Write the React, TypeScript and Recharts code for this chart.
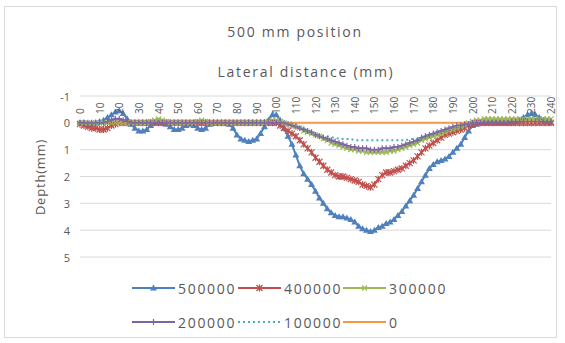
import React from "react";
import { LineChart, Line, XAxis, YAxis, CartesianGrid, Legend } from "recharts";

// lateral position across the track, mm
const lateralMm = [
  0, 2, 4, 6, 8, 10, 12, 14, 16, 18,
  20, 22, 24, 26, 28, 30, 32, 34, 36, 38,
  40, 42, 44, 46, 48, 50, 52, 54, 56, 58,
  60, 62, 64, 66, 68, 70, 72, 74, 76, 78,
  80, 82, 84, 86, 88, 90, 92, 94, 96, 98,
  100, 102, 104, 106, 108, 110, 112, 114, 116, 118,
  120, 122, 124, 126, 128, 130, 132, 134, 136, 138,
  140, 142, 144, 146, 148, 150, 152, 154, 156, 158,
  160, 162, 164, 166, 168, 170, 172, 174, 176, 178,
  180, 182, 184, 186, 188, 190, 192, 194, 196, 198,
  200, 202, 204, 206, 208, 210, 212, 214, 216, 218,
  220, 222, 224, 226, 228, 230, 232, 234, 236, 238,
  240,
];

// rut depth (mm) after each number of passes
const depth500000 = [
  0, 0, 0.05, 0.05, 0, -0.05, -0.1, -0.2, -0.3, -0.4,
  -0.45, -0.35, -0.15, 0.05, 0.2, 0.3, 0.3, 0.25, 0.1, 0,
  -0.05, 0, 0.05, 0.15, 0.25, 0.25, 0.2, 0.1, 0.05, 0.1,
  0.2, 0.25, 0.2, 0.05, 0, 0, 0, 0, 0.05, 0.2,
  0.45, 0.6, 0.65, 0.7, 0.65, 0.6, 0.4, 0.15, -0.1, -0.3,
  -0.3, -0.1, 0.2, 0.5, 0.8, 1.2, 1.6, 1.9, 2.1, 2.3,
  2.55, 2.8, 3.0, 3.2, 3.35, 3.45, 3.5, 3.5, 3.55, 3.6,
  3.7, 3.85, 3.95, 4.0, 4.05, 4.0, 3.9, 3.85, 3.75, 3.7,
  3.6, 3.45, 3.3, 3.1, 2.9, 2.7, 2.45, 2.2, 1.95, 1.7,
  1.55, 1.45, 1.4, 1.35, 1.25, 1.1, 0.95, 0.8, 0.55, 0.3,
  0.1, 0.05, 0, 0, 0, 0, 0, 0, 0, 0,
  0, -0.05, -0.1, -0.2, -0.3, -0.35, -0.3, -0.2, -0.1, -0.05,
  0,
];

const depth400000 = [
  0.05, 0.1, 0.15, 0.2, 0.2, 0.25, 0.25, 0.2, 0.1, 0.05,
  0, 0, 0, 0, 0, 0, 0, 0, 0, 0,
  0, 0, 0, 0, 0, 0, 0, 0, 0, 0,
  0, 0, 0, 0, 0, 0, 0, 0, 0, 0,
  0, 0, 0, 0, 0, 0, 0, 0, 0, 0,
  0, 0.1, 0.2, 0.3, 0.4, 0.5, 0.65, 0.8, 0.95, 1.1,
  1.3, 1.45, 1.6, 1.75, 1.85, 1.95, 2.0, 2.0, 2.05, 2.1,
  2.15, 2.2, 2.3, 2.35, 2.4, 2.3, 2.1, 1.95, 1.85, 1.85,
  1.8, 1.75, 1.7, 1.6, 1.5, 1.4, 1.25, 1.1, 0.95, 0.85,
  0.75, 0.65, 0.55, 0.45, 0.4, 0.35, 0.3, 0.25, 0.2, 0.1,
  0.05, 0, 0, 0, 0, 0, 0, 0, 0, 0,
  0, 0, 0, 0, 0, 0, 0, 0, 0, 0,
  0,
];

const depth300000 = [
  0, 0, 0, 0, 0, 0, 0, 0, 0, 0,
  0, 0, 0, 0, 0, 0, 0, 0, -0.05, -0.1,
  -0.15, -0.1, -0.05, 0, 0, 0, 0, 0, 0, 0,
  -0.05, -0.1, -0.05, 0, 0, 0, 0, 0, 0, 0,
  0, 0, 0, 0, 0, 0, 0, 0, -0.05, -0.1,
  -0.1, -0.05, 0, 0.05, 0.1, 0.15, 0.2, 0.3, 0.35, 0.4,
  0.45, 0.5, 0.6, 0.65, 0.75, 0.8, 0.85, 0.9, 0.95, 1.0,
  1.0, 1.05, 1.05, 1.1, 1.1, 1.1, 1.1, 1.1, 1.1, 1.05,
  1.05, 1.0, 0.95, 0.9, 0.85, 0.8, 0.75, 0.65, 0.6, 0.55,
  0.5, 0.45, 0.4, 0.35, 0.3, 0.25, 0.2, 0.15, 0.1, 0,
  -0.05, -0.1, -0.1, -0.15, -0.15, -0.15, -0.15, -0.15, -0.15, -0.15,
  -0.15, -0.15, -0.15, -0.15, -0.15, -0.15, -0.15, -0.15, -0.15, -0.15,
  -0.15,
];

const depth200000 = [
  0, 0, 0, 0, 0, 0, 0, -0.05, -0.1, -0.15,
  -0.15, -0.1, -0.05, 0, 0, 0, 0, 0, 0, 0,
  0, 0, 0, 0, 0, 0, 0, 0, 0, 0,
  0, 0, 0, 0, 0, 0, 0, 0, 0, 0,
  0, 0, 0, 0, 0, 0, 0, 0, 0, 0,
  0, 0, 0, 0.05, 0.1, 0.15, 0.2, 0.25, 0.3, 0.35,
  0.45, 0.5, 0.55, 0.6, 0.65, 0.7, 0.75, 0.8, 0.85, 0.9,
  0.9, 0.95, 0.95, 0.95, 1.0, 1.0, 1.0, 0.95, 0.95, 0.95,
  0.9, 0.9, 0.85, 0.8, 0.75, 0.7, 0.65, 0.55, 0.5, 0.45,
  0.4, 0.35, 0.3, 0.25, 0.2, 0.15, 0.1, 0.1, 0.05, 0.05,
  0, 0, 0, 0, 0, 0, 0, 0, 0, 0,
  -0.05, -0.05, -0.05, -0.05, -0.05, -0.05, -0.05, -0.05, -0.05, -0.05,
  -0.05,
];

const depth100000 = [
  0, 0, 0, 0, 0, 0, 0, 0, 0, 0,
  0, 0, 0, 0, 0, 0, 0, 0, 0, 0,
  0, 0, 0, 0, 0, 0, 0, 0, 0, 0,
  0, 0, 0, 0, 0, 0, 0, 0, 0, 0,
  0, 0, 0, 0, 0, 0, 0, 0, 0, 0,
  0, 0, 0, 0, 0, 0.05, 0.15, 0.2, 0.3, 0.35,
  0.4, 0.45, 0.5, 0.5, 0.55, 0.55, 0.6, 0.6, 0.6, 0.6,
  0.65, 0.65, 0.65, 0.65, 0.65, 0.65, 0.65, 0.65, 0.65, 0.65,
  0.65, 0.65, 0.65, 0.65, 0.6, 0.6, 0.6, 0.55, 0.5, 0.45,
  0.4, 0.35, 0.3, 0.25, 0.2, 0.15, 0.1, 0.05, 0, 0,
  0, 0, 0, 0, 0, 0, 0, 0, 0, 0,
  0, 0, 0, 0, 0, 0, 0, 0, 0, 0,
  0,
];

const depth0 = [
  0, 0, 0, 0, 0, 0, 0, 0, 0, 0,
  0, 0, 0, 0, 0, 0, 0, 0, 0, 0,
  0, 0, 0, 0, 0, 0, 0, 0, 0, 0,
  0, 0, 0, 0, 0, 0, 0, 0, 0, 0,
  0, 0, 0, 0, 0, 0, 0, 0, 0, 0,
  0, 0, 0, 0, 0, 0, 0, 0, 0, 0,
  0, 0, 0, 0, 0, 0, 0, 0, 0, 0,
  0, 0, 0, 0, 0, 0, 0, 0, 0, 0,
  0, 0, 0, 0, 0, 0, 0, 0, 0, 0,
  0, 0, 0, 0, 0, 0, 0, 0, 0, 0,
  0, 0, 0, 0, 0, 0, 0, 0, 0, 0,
  0, 0, 0, 0, 0, 0, 0, 0, 0, 0,
  0,
];

const depthTicks = [-1, 0, 1, 2, 3, 4, 5];

type MarkerKind = "triangle" | "star" | "cross" | "plus" | "none";

const SERIES: { name: string; values: number[]; color: string; marker: MarkerKind; dashed?: boolean }[] = [
  { name: "500000", values: depth500000, color: "#4F81BD", marker: "triangle" },
  { name: "400000", values: depth400000, color: "#C0504D", marker: "star" },
  { name: "300000", values: depth300000, color: "#9BBB59", marker: "cross" },
  { name: "200000", values: depth200000, color: "#8064A2", marker: "plus" },
  { name: "100000", values: depth100000, color: "#4BACC6", marker: "none", dashed: true },
  { name: "0", values: depth0, color: "#F79646", marker: "none" },
];

const data = lateralMm.map((mm, i) => {
  const row: Record<string, number> = { mm };
  SERIES.forEach((s) => (row[s.name] = s.values[i]));
  return row;
});

const W = 565;
const H = 343;
const PLOT_TOP = 96;
const TEXT = "#595959";
const FONT = "'Open Sans', sans-serif";

function Marker({ kind, cx, cy, color }: { kind: MarkerKind; cx: number; cy: number; color: string }) {
  if (kind === "triangle") {
    return <path d={`M${cx},${cy - 3.5}L${cx + 3.5},${cy + 2.5}L${cx - 3.5},${cy + 2.5}Z`} fill={color} />;
  }
  if (kind === "star") {
    return (
      <path
        d={`M${cx - 3},${cy - 3}L${cx + 3},${cy + 3}M${cx - 3},${cy + 3}L${cx + 3},${cy - 3}M${cx},${cy - 3.5}L${cx},${cy + 3.5}`}
        stroke={color}
        strokeWidth={1.2}
        fill="none"
      />
    );
  }
  if (kind === "cross") {
    return (
      <path
        d={`M${cx - 2.5},${cy - 2.5}L${cx + 2.5},${cy + 2.5}M${cx - 2.5},${cy + 2.5}L${cx + 2.5},${cy - 2.5}`}
        stroke={color}
        strokeWidth={1.2}
        fill="none"
      />
    );
  }
  if (kind === "plus") {
    return (
      <path
        d={`M${cx - 3},${cy}L${cx + 3},${cy}M${cx},${cy - 3}L${cx},${cy + 3}`}
        stroke={color}
        strokeWidth={1.2}
        fill="none"
      />
    );
  }
  return null;
}

const TopTick = (p: any) => {
  const y = PLOT_TOP + 18;
  return (
    <text
      x={p.x}
      y={y}
      transform={`rotate(-90, ${p.x}, ${y})`}
      textAnchor="start"
      dominantBaseline="central"
      fontSize={10}
      fontFamily={FONT}
      fill={TEXT}
    >
      {p.payload.value}
    </text>
  );
};

const LeftTick = (p: any) => (
  <text x={70} y={p.y} textAnchor="end" dominantBaseline="central" fontSize={11} fontFamily={FONT} fill={TEXT}>
    {p.payload.value}
  </text>
);

const LEGEND_SLOTS = [
  [132, 18],
  [238, 18],
  [343, 18],
  [132, 52],
  [238, 52],
  [343, 52],
];

const renderLegend = (props: any) => {
  const entries = SERIES.map((s) => s);
  return (
    <svg width={W} height={70}>
      {entries.map((s, i) => {
        const [x, y] = LEGEND_SLOTS[i];
        return (
          <g key={s.name}>
            <line
              x1={x}
              x2={x + 43}
              y1={y}
              y2={y}
              stroke={s.color}
              strokeWidth={2}
              strokeDasharray={s.dashed ? "2 3" : undefined}
            />
            <Marker kind={s.marker} cx={x + 21.5} cy={y} color={s.color} />
            <text
              x={x + 46}
              y={y}
              dominantBaseline="central"
              fontSize={14}
              letterSpacing={1.7}
              fontFamily={FONT}
              fill={TEXT}
            >
              {s.name}
            </text>
          </g>
        );
      })}
    </svg>
  );
};

export default function App() {
  return (
    <div style={{ position: "absolute", left: 0, top: 0, width: W, height: H, background: "#fff", fontFamily: FONT }}>
      <div
        style={{
          position: "absolute",
          left: 4,
          top: 6,
          width: 553,
          height: 332,
          border: "1px solid #d9d9d9",
          boxSizing: "border-box",
        }}
      />
      <div style={{ position: "absolute", left: 0, width: 590, top: 22, textAlign: "center", fontSize: 14, letterSpacing: 1.7, color: TEXT }}>
        500 mm position
      </div>
      <div style={{ position: "absolute", left: 0, width: 612, top: 62, textAlign: "center", fontSize: 14, letterSpacing: 1.7, color: TEXT }}>
        Lateral distance (mm)
      </div>
      <div
        style={{
          position: "absolute",
          left: 40,
          top: 177,
          transform: "translate(-50%, -50%) rotate(-90deg)",
          fontSize: 13,
          letterSpacing: 0.8,
          color: TEXT,
          whiteSpace: "nowrap",
        }}
      >
        Depth(mm)
      </div>
      <div style={{ position: "absolute", left: 0, top: 0 }}>
        <LineChart width={W} height={H} data={data} margin={{ top: 76, right: 14, bottom: 86, left: 0 }}>
          <CartesianGrid vertical={false} stroke="#d9d9d9" />
          <XAxis
            dataKey="mm"
            orientation="top"
            interval={4}
            height={20}
            axisLine={false}
            tickLine={false}
            tick={(p: any) => <TopTick {...p} />}
          />
          <YAxis
            type="number"
            domain={[-1, 5]}
            ticks={depthTicks}
            reversed
            width={80}
            axisLine={false}
            tickLine={false}
            tick={(p: any) => <LeftTick {...p} />}
          />
          <Legend
            layout="horizontal"
            verticalAlign="middle"
            content={renderLegend}
            wrapperStyle={{ top: 270, left: 0, width: W }}
          />
          {SERIES.map((s) => (
            <Line
              key={s.name}
              dataKey={s.name}
              name={s.name}
              stroke={s.color}
              strokeWidth={2}
              strokeDasharray={s.dashed ? "2 3" : undefined}
              dot={
                s.marker === "none"
                  ? false
                  : (p: any) => <Marker key={`${s.name}-${p.index}`} kind={s.marker} cx={p.cx} cy={p.cy} color={s.color} />
              }
              activeDot={false}
              isAnimationActive={false}
            />
          ))}
        </LineChart>
      </div>
    </div>
  );
}
